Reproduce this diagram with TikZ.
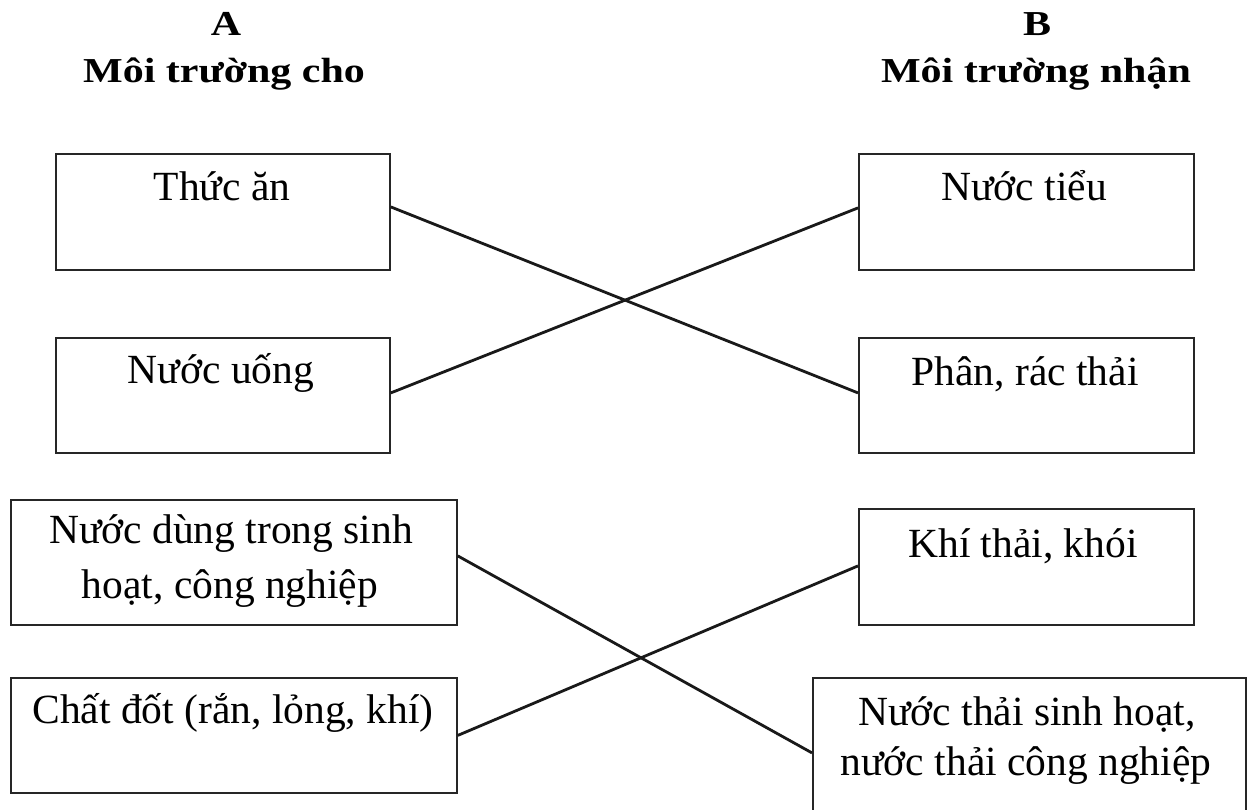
\documentclass[tikz,border=0pt]{standalone}
\usepackage{fontspec}
\setmainfont{Liberation Serif}
\newfontfamily\hdrfont[FakeStretch=1.2]{Liberation Serif}
\begin{document}
\begin{tikzpicture}[x=1pt,y=-1pt,
  box/.style={draw=black!85, line width=1.8pt, anchor=north west, inner sep=0pt},
  conn/.style={draw=black!90, line width=2.8pt},
  txt/.style={anchor=base, inner sep=0pt, font=\fontsize{41.5}{50}\selectfont},
  hdr/.style={anchor=base, inner sep=0pt, font=\hdrfont\bfseries\fontsize{35}{40}\selectfont}]
\useasboundingbox (0,0) rectangle (1247,809);
\clip (0,0) rectangle (1247,809);
% headers
\node[hdr] (hA) at (226,35) {A};
\node[hdr] (hAt) at (224,82) {Môi trường cho};
\node[hdr] (hB) at (1037,35) {B};
\node[hdr] (hBt) at (1036,82) {Môi trường nhận};
% left boxes
\node[box, minimum width=334pt, minimum height=116pt] (a1) at (55,153) {};
\node[box, minimum width=334pt, minimum height=115pt] (a2) at (55,337) {};
\node[box, minimum width=446pt, minimum height=125pt] (a3) at (10,499) {};
\node[box, minimum width=446pt, minimum height=115pt] (a4) at (10,677) {};
% right boxes
\node[box, minimum width=335pt, minimum height=116pt] (b1) at (858,153) {};
\node[box, minimum width=335pt, minimum height=115pt] (b2) at (858,337) {};
\node[box, minimum width=335pt, minimum height=116pt] (b3) at (858,508) {};
\node[box, minimum width=433pt, minimum height=153pt] (b4) at (812,677) {};
% texts
\node[txt] (a1t) at (222,200) {Thức ăn};
\node[txt] (a2t) at (221,383) {Nước uống};
\node[txt] (a3t) at (231,543) {Nước dùng trong sinh};
\node[txt] (a3u) at (230,598) {hoạt, công nghiệp};
\node[txt] (a4t) at (233,723) {Chất đốt (rắn, lỏng, khí)};
\node[txt] (b1t) at (1024,200) {Nước tiểu};
\node[txt] (b2t) at (1025,385) {Phân, rác thải};
\node[txt] (b3t) at (1023,557) {Khí thải, khói};
\node[txt] (b4t) at (1027,725) {Nước thải sinh hoạt,};
\node[txt] (b4u) at (1026,775) {nước thải công nghiệp};
% connectors
\draw[conn] ([yshift=5pt]a1.east) -- ([yshift=2.5pt]b2.west);
\draw[conn] ([yshift=2.5pt]a2.east) -- ([yshift=4pt]b1.west);
\draw[conn] ([yshift=6.5pt]a3.east) -- ([yshift=1.5pt]b4.west);
\draw[conn] (a4.east) -- ([yshift=1pt]b3.west);
\end{tikzpicture}
\end{document}
